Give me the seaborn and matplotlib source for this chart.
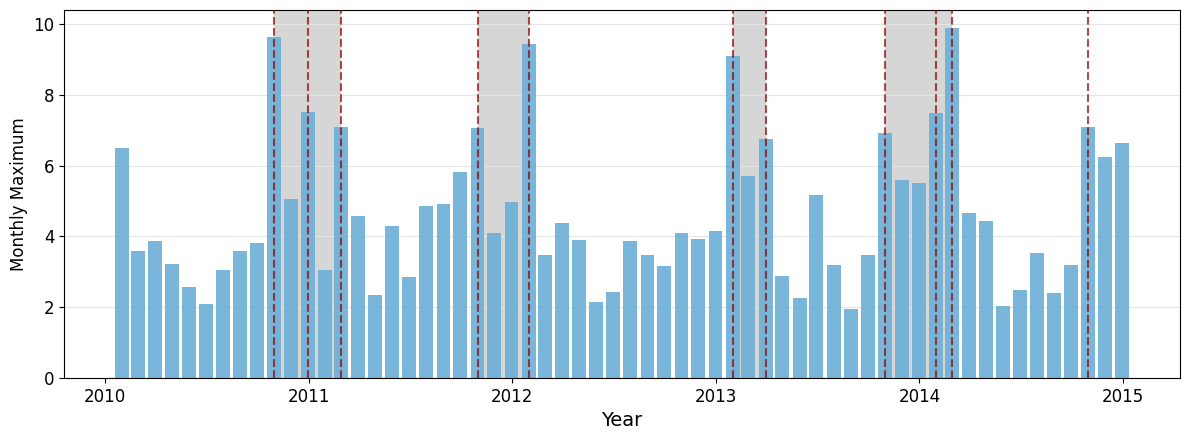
import pandas as pd
import numpy as np
import matplotlib
matplotlib.use("Agg")
import matplotlib.pyplot as plt
import matplotlib.dates as mdates
import seaborn as sns

# -------------------------------
# Data (monthly maxima, month-end dates)
# -------------------------------
months = pd.date_range("2010-01-31", "2014-12-31", freq="ME")

vals_2010 = [6.50, 3.59, 3.87, 3.22, 2.57, 2.09, 3.05, 3.59, 3.82, 9.64, 5.06, 7.52]
vals_2011 = [3.05, 7.10, 4.58, 2.35, 4.30, 2.86, 4.86, 4.92, 5.82, 7.07, 4.10, 4.98]
vals_2012 = [9.44, 3.48, 4.38, 3.90, 2.15, 2.43, 3.87, 3.48, 3.17, 4.10, 3.93, 4.16]
vals_2013 = [9.10, 5.71, 6.76, 2.88, 2.26, 5.17, 3.20, 1.95, 3.48, 6.93, 5.60, 5.51]
vals_2014 = [7.49, 9.90, 4.67, 4.44, 2.04, 2.49, 3.53, 2.40, 3.20, 7.10, 6.25, 6.64]

values = vals_2010 + vals_2011 + vals_2012 + vals_2013 + vals_2014

# flagged months (dashed lines)
flag_dates = ["2010-10-31", "2010-12-31", "2011-02-28", "2011-10-31", "2012-01-31",
              "2013-01-31", "2013-03-31", "2013-10-31", "2014-01-31", "2014-02-28",
              "2014-10-31"]

# shaded periods
span_starts = ["2010-10-31", "2011-10-31", "2013-01-31", "2013-10-31"]
span_ends = ["2011-02-28", "2012-01-31", "2013-03-31", "2014-02-28"]

df = pd.DataFrame({"date": mdates.date2num(months), "value": values})

# -------------------------------
# Plot
# -------------------------------
sns.set_style("ticks", {"text.color": "black", "axes.labelcolor": "black",
                        "xtick.color": "black", "ytick.color": "black",
                        "axes.edgecolor": "black"})
plt.rcParams["font.family"] = ["DejaVu Sans"]

fig, ax = plt.subplots(figsize=(11.9, 4.4), dpi=100)

sns.barplot(data=df, x="date", y="value", native_scale=True, width=25 / 28,
            color="#6baed6", alpha=0.9, saturation=1, errorbar=None, ax=ax,
            linewidth=0, edgecolor="none", zorder=2)

for s, e in zip(span_starts, span_ends):
    ax.axvspan(mdates.datestr2num(s), mdates.datestr2num(e),
               color="#d6d6d6", zorder=0, lw=0)

for d in flag_dates:
    ax.axvline(mdates.datestr2num(d), color="darkred", alpha=0.7,
               linestyle="--", linewidth=1.5, zorder=3)

ax.grid(axis="y", color="#e5e5e5", linewidth=0.8, zorder=1)
ax.set_axisbelow(True)

ax.xaxis.set_major_locator(mdates.YearLocator())
ax.xaxis.set_major_formatter(mdates.DateFormatter("%Y"))
ax.set_ylim(0, 10.4)

ax.set_xlabel("Year", fontsize=14)
ax.set_ylabel("Monthly Maximum", fontsize=12)
ax.tick_params(labelsize=12)
for sp in ax.spines.values():
    sp.set_visible(True)
    sp.set_color("black")

fig.subplots_adjust(left=0.054, right=0.9916, top=0.977, bottom=0.141)
fig.savefig("out.png", dpi=100)
